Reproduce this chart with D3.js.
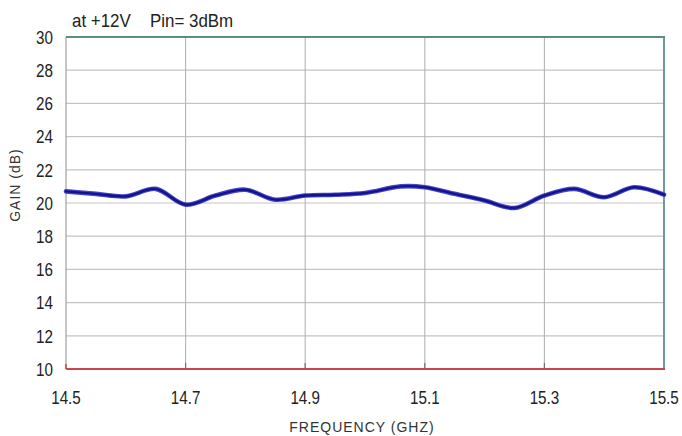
<!DOCTYPE html>
<html><head><meta charset="utf-8">
<script src="https://cdn.jsdelivr.net/npm/d3@7"></script>
<style>
html,body{margin:0;padding:0;background:#fff;}
svg{display:block;}
</style></head>
<body>
<svg id="chart" width="682" height="436"></svg>
<script>
const freqs = [14.50,14.55,14.60,14.65,14.70,14.75,14.80,14.85,14.90,14.95,15.00,15.06,15.10,15.15,15.20,15.25,15.30,15.35,15.40,15.45,15.50];
const gains = [20.7,20.55,20.4,20.85,19.9,20.45,20.8,20.2,20.45,20.5,20.6,21.0,20.95,20.55,20.15,19.7,20.45,20.85,20.35,20.95,20.5];
const xTicks = [14.5,14.7,14.9,15.1,15.3,15.5];
const yTicks = [10,12,14,16,18,20,22,24,26,28,30];
const titleParts = ["at +12V", "Pin= 3dBm"];
const yLabel = "GAIN (dB)";
const xLabel = "FREQUENCY (GHZ)";

const svg = d3.select("#chart");
const L = 66, R = 664, T = 37, B = 369;
const x = d3.scaleLinear().domain([14.5,15.5]).range([L,R]);
const y = d3.scaleLinear().domain([10,30]).range([B,T]);
const sans = "'Liberation Sans',Arial,sans-serif";
const SX = 0.8; // condensed look

// horizontal grid
svg.append("g").selectAll("line").data(yTicks.filter(d=>d>10&&d<30)).join("line")
  .attr("x1",L).attr("x2",R).attr("y1",d=>y(d)).attr("y2",d=>y(d))
  .attr("stroke","#c4c4c4").attr("stroke-width",1.2);
// vertical grid
svg.append("g").selectAll("line").data(xTicks.filter(d=>d>14.5&&d<15.5)).join("line")
  .attr("x1",d=>x(d)).attr("x2",d=>x(d)).attr("y1",T).attr("y2",B)
  .attr("stroke","#b4b4b4").attr("stroke-width",1.1);
// small bottom ticks
svg.append("g").selectAll("line").data(xTicks.filter(d=>d>14.5&&d<15.5)).join("line")
  .attr("x1",d=>x(d)).attr("x2",d=>x(d)).attr("y1",B-6).attr("y2",B)
  .attr("stroke","#707070").attr("stroke-width",1.2);

// borders
svg.append("line").attr("x1",L).attr("x2",L).attr("y1",T).attr("y2",B).attr("stroke","#a8a8a8").attr("stroke-width",1.3);
svg.append("line").attr("x1",L).attr("x2",L).attr("y1",B-5).attr("y2",B).attr("stroke","#c04848").attr("stroke-width",1.5);
svg.append("line").attr("x1",R).attr("x2",R).attr("y1",T).attr("y2",B).attr("stroke","#5f8f8c").attr("stroke-width",1.8);
svg.append("line").attr("x1",L).attr("x2",R+1).attr("y1",T).attr("y2",T).attr("stroke","#5a8c82").attr("stroke-width",2.2);
svg.append("line").attr("x1",L).attr("x2",R+1).attr("y1",B).attr("y2",B).attr("stroke","#c8454f").attr("stroke-width",2);

// data line
const line = d3.line().x((d,i)=>x(freqs[i])).y(d=>y(d)).curve(d3.curveCatmullRom.alpha(0.5));
svg.append("path").datum(gains).attr("d",line).attr("fill","none")
  .attr("stroke","#3030c8").attr("stroke-width",4.6).attr("stroke-linecap","round").attr("opacity",0.9);
svg.append("path").datum(gains).attr("d",line).attr("fill","none")
  .attr("stroke","#14148a").attr("stroke-width",2.4).attr("stroke-linecap","round");

// y tick labels
svg.append("g").selectAll("text").data(yTicks).join("text")
  .attr("transform",d=>`translate(53,${y(d)}) scale(${SX},1)`).attr("dy","0.36em").attr("text-anchor","end")
  .attr("font-family",sans).attr("font-size",19).attr("fill","#222")
  .text(d=>d);
// x tick labels
svg.append("g").selectAll("text").data(xTicks).join("text")
  .attr("transform",d=>`translate(${x(d)},404) scale(${SX},1)`).attr("text-anchor","middle")
  .attr("font-family",sans).attr("font-size",19).attr("fill","#222")
  .text(d=>d.toFixed(1));

// title (two parts)
const titleX = [72, 150];
svg.append("g").selectAll("text").data(titleParts).join("text")
  .attr("transform",(d,i)=>`translate(${titleX[i]},27) scale(0.94,1)`)
  .attr("font-family",sans).attr("font-size",18).attr("fill","#222").text(d=>d);
// y label
svg.append("text").attr("transform","translate(20,185) rotate(-90)").attr("text-anchor","middle")
  .attr("font-family",sans).attr("font-size",14).attr("letter-spacing",1)
  .attr("fill","#333").text(yLabel);
// x label
svg.append("text").attr("x",362).attr("y",432).attr("text-anchor","middle")
  .attr("font-family",sans).attr("font-size",14).attr("letter-spacing",1)
  .attr("fill","#333").text(xLabel);
</script>
</body></html>
